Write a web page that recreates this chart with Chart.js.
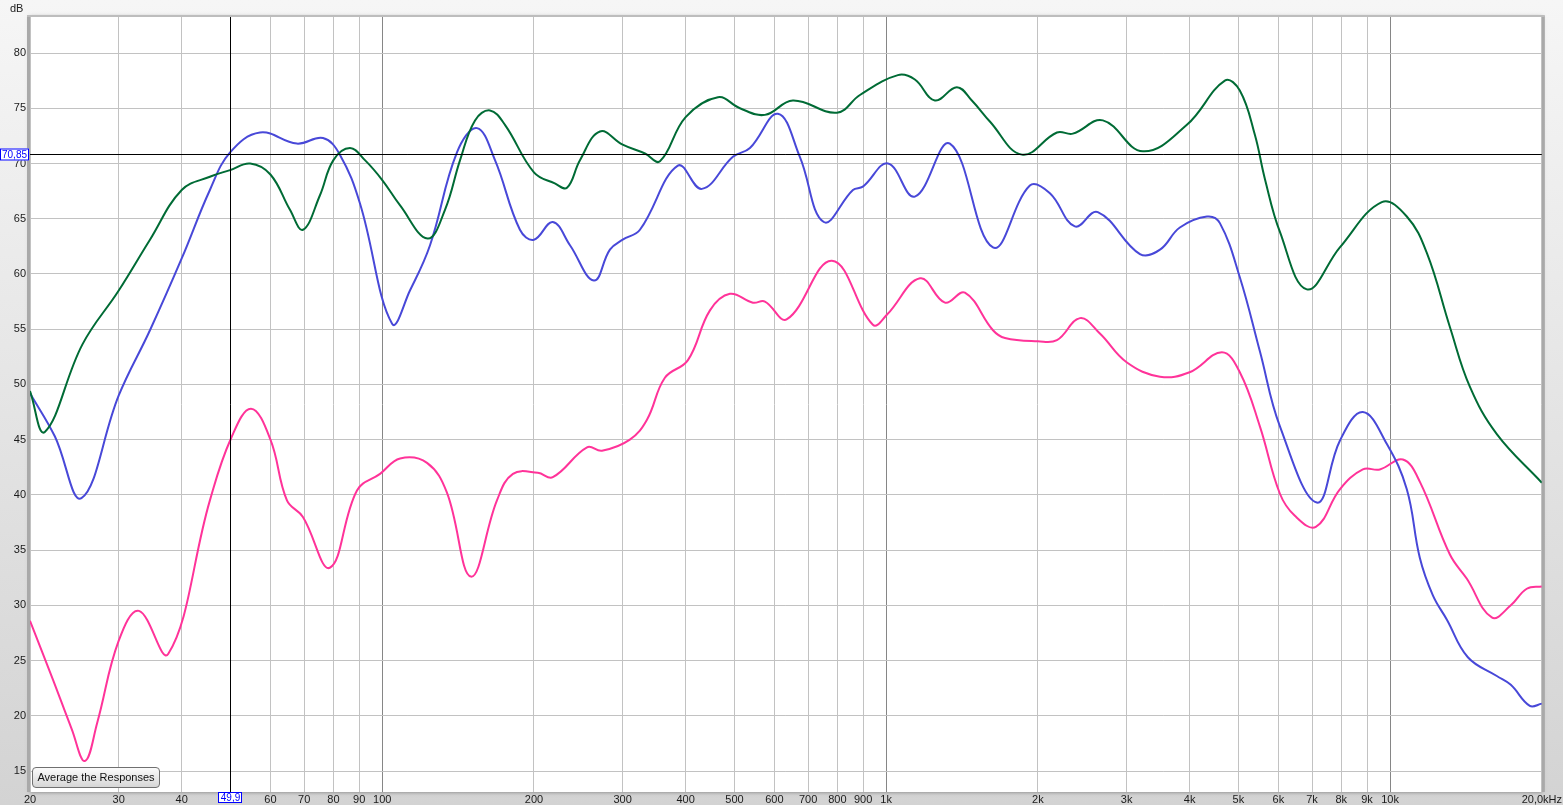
<!DOCTYPE html>
<html>
<head>
<meta charset="utf-8">
<script src="https://cdn.jsdelivr.net/npm/chart.js@4.4.1/dist/chart.umd.min.js"></script>
<style>
  html, body { margin:0; padding:0; background:#e6e6e6; }
  #wrap { position:relative; width:1563px; height:805px; overflow:hidden; }
  #c { position:absolute; left:0; top:0; }
  #dbl { position:absolute; left:10px; top:2px; font:11px "Liberation Sans", Arial, sans-serif; color:#222; }
  #btn { position:absolute; left:32px; top:767px; width:128px; height:21px; box-sizing:border-box;
         border:1px solid #707070; border-radius:4px;
         background:linear-gradient(#fbfbfb, #d6d6d6);
         font:11px "Liberation Sans", Arial, sans-serif; color:#111;
         text-align:center; line-height:18px; white-space:nowrap; }
</style>
</head>
<body>
<div id="wrap">
  <canvas id="c" width="1563" height="805"></canvas>
  <div id="dbl">dB</div>
  <div id="btn">Average the Responses</div>
</div>
<script>
// ---- data (Hz, dB) ----
const greenFreq = [20,21.4,25.4,30,34.6,40,45.5,49.9,54.7,60,65.6,69.6,75.2,80,86.3,92.4,100,108.5,123,133.2,142.7,152.8,163.6,175.2,200,220,232.6,246.8,270.4,300,332.2,355.7,400,463.6,512.6,574.6,653,798.6,887,1055,1140,1249,1381,1479,1606,1860,2182,2346,2692,3232,3951,4699,5032,5390,5643,6044,6836,7948,9628,10792,11826,13140,14394,16282,20000];
const greenDb   = [49.4,45.7,53.6,58.5,63.1,67.6,68.8,69.4,70.0,69.0,65.8,64.0,67.1,70.3,71.4,70.3,68.5,66.2,63.2,65.8,70.3,73.9,74.8,73.5,69.2,68.2,67.8,70.3,72.9,71.7,70.9,70.2,74.2,76.0,75.0,74.4,75.7,74.6,76.2,78.0,77.6,75.7,76.9,75.7,73.8,70.8,72.8,72.7,73.9,71.1,73.5,77.5,76.6,72.6,68.6,63.8,58.6,62.4,66.5,65.2,61.9,55.2,49.8,45.5,41.1];

const blueFreq = [20,22.4,25.3,30,34.6,40,45.5,49.9,57.2,67.7,76.3,82.4,90.3,104.6,113.5,124.4,140.7,154.2,167.4,187.6,200,218,235.8,263,283,300,324.6,386,430.9,496.4,536.6,609.8,674,752,859,899,1008,1140,1338,1629,1928,2113,2368,2630,3188,3494,3826,4330,4594,5032,5515,6044,7154,7948,8827,9853,10792,11452,12157,12962,14264,16282,17357,18932,20000];
const blueDb   = [49.2,45.3,39.7,49.0,54.9,61.4,67.6,71.0,72.8,71.8,72.3,70.8,66.4,55.5,58.5,62.6,71.0,73.2,70.3,64.0,63.1,64.7,62.6,59.4,62.2,63.1,64.0,69.8,67.7,70.6,71.4,74.5,70.6,64.7,67.6,67.9,70.0,67.0,71.8,62.4,68.0,67.3,64.3,65.6,61.8,62.2,64.2,65.2,64.6,59.7,53.0,46.2,39.3,44.9,47.5,44.6,40.5,34.3,30.9,28.7,25.3,23.6,22.8,20.9,21.1];

const pinkFreq = [20,22.2,24.2,25.7,27.2,30,32.9,37.6,45.5,50.1,54.9,60,64.7,69.6,78.7,89.1,99,108.5,122.7,134.4,150,168.9,181.7,203.6,218,254.9,272.9,310,335.2,363.8,404.2,447,489.6,544,574.6,635.5,780.4,941,1003,1167,1308,1433,1629,1721,2000,2182,2424,2655,3000,3494,4000,4636,5032,5515,6044,6472,7122,7948,8827,9540,10600,11452,13140,14200,15914,17357,18672,20000];
const pinkDb   = [28.6,23.3,18.8,15.9,19.4,26.8,29.5,25.6,39.5,45.1,47.8,45.0,39.5,38.0,33.4,40.4,41.9,43.3,42.9,40.2,32.6,39.5,41.9,42.0,41.6,44.3,44.0,45.0,46.8,50.6,52.2,56.7,58.2,57.4,57.5,55.9,61.2,55.4,56.3,59.6,57.4,58.3,54.9,54.2,53.9,54.0,56.0,54.6,52.0,50.7,51.1,52.9,51.1,46.2,40.1,38.1,37.1,40.5,42.3,42.3,43.2,41.2,34.6,32.4,28.9,30.0,31.5,31.7];

const xTickValues = [20,30,40,50,60,70,80,90,100,200,300,400,500,600,700,800,900,1000,2000,3000,4000,5000,6000,7000,8000,9000,10000,20000];
const xTickLabels = ['20','30','40','','60','70','80','90','100','200','300','400','500','600','700','800','900','1k','2k','3k','4k','5k','6k','7k','8k','9k','10k','20,0kHz'];
const yTickValues = [15,20,25,30,35,40,45,50,55,60,65,70,75,80];

const cursorFreq = 49.9, cursorDb = 70.85;
const cursorFreqLabel = '49,9', cursorDbLabel = '70,85';

function pts(f, d) { return f.map((v, i) => ({ x: v, y: d[i] })); }

const FONT = '"Liberation Sans", Arial, sans-serif';

const bgPlugin = {
  id: 'bg',
  beforeDraw(chart) {
    const { ctx, chartArea: a, width, height } = chart;
    ctx.save();
    const g = ctx.createLinearGradient(0, 0, 0, height);
    g.addColorStop(0, '#f6f6f6');
    g.addColorStop(1, '#d3d3d3');
    ctx.fillStyle = g;
    ctx.fillRect(0, 0, width, height);
    ctx.shadowColor = 'rgba(0,0,0,0.45)';
    ctx.shadowBlur = 4;
    ctx.fillStyle = '#ffffff';
    ctx.fillRect(a.left, a.top, a.right - a.left, a.bottom - a.top);
    ctx.shadowColor = 'transparent';
    ctx.fillStyle = '#a9a9a9';
    ctx.fillRect(a.left - 3, a.top - 1, 3, a.bottom - a.top + 1);
    ctx.fillRect(a.right, a.top - 1, 3, a.bottom - a.top + 1);
    ctx.fillStyle = '#bdbdbd';
    ctx.fillRect(a.left - 3, a.top - 2, a.right - a.left + 6, 2);
    ctx.restore();
  }
};

const cursorPlugin = {
  id: 'cursor',
  afterDatasetsDraw(chart) {
    const { ctx, chartArea: a, scales } = chart;
    const px = Math.round(scales.x.getPixelForValue(cursorFreq)) + 0.5;
    const py = Math.round(scales.y.getPixelForValue(cursorDb)) + 0.5;
    ctx.save();
    ctx.strokeStyle = '#000';
    ctx.lineWidth = 1;
    ctx.beginPath();
    ctx.moveTo(px, a.top); ctx.lineTo(px, a.bottom);
    ctx.moveTo(a.left, py); ctx.lineTo(a.right, py);
    ctx.stroke();
    ctx.font = '10px ' + FONT;
    ctx.textBaseline = 'middle';
    ctx.textAlign = 'center';
    ctx.fillStyle = '#fff';
    ctx.fillRect(0, py - 6, 29, 12);
    ctx.strokeStyle = '#0000ff';
    ctx.strokeRect(0.5, py - 5.5, 28, 11);
    ctx.fillStyle = '#0000ff';
    ctx.fillText(cursorDbLabel, 14.5, py + 0.5);
    const bw = 24;
    ctx.fillStyle = '#fff';
    ctx.fillRect(px - 12.5, a.bottom, bw, 11);
    ctx.strokeRect(px - 12, a.bottom + 0.5, bw - 1, 10);
    ctx.fillStyle = '#0000ff';
    ctx.fillText(cursorFreqLabel, px, a.bottom + 6);
    ctx.restore();
  }
};

const lineOpts = { borderWidth: 2, pointRadius: 0, tension: 0.4, fill: false };

new Chart(document.getElementById('c'), {
  type: 'line',
  data: {
    datasets: [
      Object.assign({ label: 'R', data: pts(greenFreq, greenDb), borderColor: '#006b35' }, lineOpts),
      Object.assign({ label: 'L', data: pts(blueFreq, blueDb), borderColor: '#4848d8' }, lineOpts),
      Object.assign({ label: 'Sub', data: pts(pinkFreq, pinkDb), borderColor: '#ff3399' }, lineOpts)
    ]
  },
  options: {
    responsive: false,
    animation: false,
    events: [],
    layout: { padding: { top: 17, right: 21, left: 0, bottom: 0 } },
    plugins: { legend: { display: false }, tooltip: { enabled: false } },
    scales: {
      x: {
        type: 'logarithmic', min: 20, max: 20000,
        afterBuildTicks(s) { s.ticks = xTickValues.map(v => ({ value: v })); },
        afterFit(s) { s.height = 13; },
        ticks: {
          autoSkip: false, maxRotation: 0, minRotation: 0, padding: 1,
          color: '#1a1a1a', font: { family: FONT, size: 11 },
          callback(v) { const i = xTickValues.indexOf(v); return i >= 0 ? xTickLabels[i] : ''; }
        },
        grid: {
          drawTicks: false,
          color(ctx) { const v = ctx.tick && ctx.tick.value; return (v === 100 || v === 1000 || v === 10000) ? '#868686' : '#c2c2c2'; },
          lineWidth: 1
        },
        border: { display: false }
      },
      y: {
        type: 'linear', min: 13.1, max: 83.26,
        afterBuildTicks(s) { s.ticks = yTickValues.map(v => ({ value: v })); },
        afterFit(s) { s.width = 30; },
        ticks: { padding: 4, color: '#1a1a1a', font: { family: FONT, size: 11 } },
        grid: { drawTicks: false, color: '#c2c2c2', lineWidth: 1 },
        border: { display: false }
      }
    }
  },
  plugins: [bgPlugin, cursorPlugin]
});
</script>
</body>
</html>
